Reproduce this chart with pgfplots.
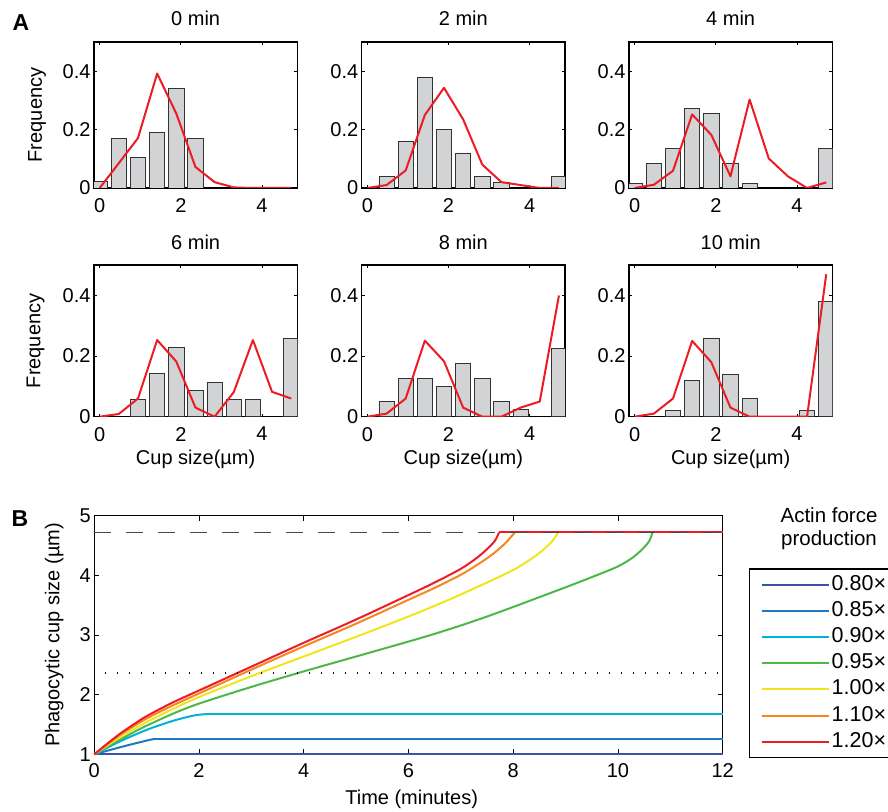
\documentclass[border=0pt]{standalone}
\usepackage{fontspec}
\setmainfont{Liberation Sans}
\usepackage{pgfplots}
\pgfplotsset{compat=1.18}

\definecolor{histfill}{HTML}{D1D3D4}
\definecolor{histedge}{HTML}{333333}
\definecolor{simred}{HTML}{EC1C24}
\definecolor{fA}{HTML}{3A53A4}
\definecolor{fB}{HTML}{1F78C1}
\definecolor{fC}{HTML}{00B2DB}
\definecolor{fD}{HTML}{4DB847}
\definecolor{fE}{HTML}{F0E51C}
\definecolor{fF}{HTML}{F7861F}
\definecolor{fG}{HTML}{EE1D25}

\newcommand{\txt}{\fontsize{20bp}{24bp}\selectfont}

\pgfplotsset{
  every axis title/.style={at={(0.5,1)}, anchor=base, yshift=16bp, font=\txt},
  matlab/.style={
    scale only axis,
    anchor=south west,
    tick align=inside,
    axis line style={line width=1.4bp},
    tick style={black, line width=0.8bp},
    /pgf/number format/assume math mode=true,
    tick label style={font=\txt},
    label style={font=\txt},
  },
  hist/.style={
    matlab,
    width=203.3bp,
    xmin=-0.14, xmax=4.87, ymin=0, ymax=0.5,
    xtick={0,2,4}, ytick={0,0.2,0.4},
    xticklabel style={yshift=-7bp},
    major tick length=3bp,
  },
  bars/.style={ybar, bar width=0.375, fill=histfill, draw=histedge, line width=0.8bp},
  model/.style={simred, line width=2bp, line join=round},
  curve/.style={line width=2bp, line join=round, smooth, tension=0.5},
  flat/.style={forget plot, line width=2bp},
}

\begin{document}
\begin{tikzpicture}
\useasboundingbox (0,0) rectangle (888bp,812bp);

% ---- A: cup size distributions over time ----
\begin{axis}[hist, at={(94bp,624bp)}, height=146bp, title={0 min},
  ylabel={Frequency}, ylabel style={at={(axis description cs:-0.28,0.5)}, anchor=center}]
\addplot[bars] coordinates {(0,0.0213) (0.472,0.170) (0.944,0.106) (1.416,0.191) (1.888,0.340) (2.360,0.170)};
\addplot[model] coordinates {(0,0) (0.472,0.085) (0.944,0.171) (1.416,0.392) (1.888,0.255) (2.360,0.072) (2.832,0.020) (3.304,0.002) (3.776,0) (4.248,0) (4.720,0)};
\end{axis}

\begin{axis}[hist, at={(361.7bp,624bp)}, height=146bp, title={2 min}]
\addplot[bars] coordinates {(0.472,0.04) (0.944,0.16) (1.416,0.38) (1.888,0.20) (2.360,0.12) (2.832,0.04) (3.304,0.02) (4.720,0.04)};
\addplot[model] coordinates {(0,0) (0.472,0.010) (0.944,0.060) (1.416,0.250) (1.888,0.343) (2.360,0.235) (2.832,0.080) (3.304,0.020) (3.776,0.010) (4.248,0) (4.720,0)};
\end{axis}

\begin{axis}[hist, at={(629bp,624bp)}, height=146bp, title={4 min}]
\addplot[bars] coordinates {(0,0.017) (0.472,0.085) (0.944,0.136) (1.416,0.271) (1.888,0.254) (2.360,0.085) (2.832,0.017) (4.720,0.136)};
\addplot[model] coordinates {(0,0) (0.472,0.011) (0.944,0.059) (1.416,0.252) (1.888,0.182) (2.360,0.040) (2.832,0.303) (3.304,0.101) (3.776,0.040) (4.248,0) (4.720,0.019)};
\end{axis}

\begin{axis}[hist, at={(94bp,395.3bp)}, height=151.5bp, title={6 min},
  ylabel={Frequency}, ylabel style={at={(axis description cs:-0.287,0.5)}, anchor=center},
  xlabel={Cup size(µm)}, xlabel style={at={(axis description cs:0.5,-0.2825)}, anchor=center}]
\addplot[bars] coordinates {(0.944,0.057) (1.416,0.143) (1.888,0.229) (2.360,0.086) (2.832,0.114) (3.304,0.057) (3.776,0.057) (4.720,0.257)};
\addplot[model] coordinates {(0,0) (0.472,0.009) (0.944,0.060) (1.416,0.253) (1.888,0.182) (2.360,0.030) (2.832,0) (3.304,0.081) (3.776,0.253) (4.248,0.082) (4.720,0.060)};
\end{axis}

\begin{axis}[hist, at={(361.7bp,395.3bp)}, height=151.5bp, title={8 min},
  xlabel={Cup size(µm)}, xlabel style={at={(axis description cs:0.5,-0.2825)}, anchor=center}]
\addplot[bars] coordinates {(0.472,0.05) (0.944,0.125) (1.416,0.125) (1.888,0.10) (2.360,0.175) (2.832,0.125) (3.304,0.05) (3.776,0.025) (4.720,0.225)};
\addplot[model] coordinates {(0,0) (0.472,0.010) (0.944,0.060) (1.416,0.251) (1.888,0.183) (2.360,0.030) (2.832,0) (3.304,0) (3.776,0.030) (4.248,0.050) (4.720,0.400)};
\end{axis}

\begin{axis}[hist, at={(629bp,395.3bp)}, height=151.5bp, title={10 min},
  xlabel={Cup size(µm)}, xlabel style={at={(axis description cs:0.5,-0.2825)}, anchor=center}]
\addplot[bars] coordinates {(0.944,0.02) (1.416,0.12) (1.888,0.26) (2.360,0.14) (2.832,0.06) (4.248,0.02) (4.720,0.38)};
\addplot[model] coordinates {(0,0) (0.472,0.010) (0.944,0.060) (1.416,0.250) (1.888,0.180) (2.360,0.030) (2.832,0) (3.304,0) (3.776,0) (4.248,0) (4.720,0.470)};
\end{axis}

% ---- B: simulated cup growth for different actin force levels ----
\begin{axis}[matlab, at={(94.3bp,57.7bp)},
  width=628.4bp, height=238.6bp,
  xmin=0, xmax=12, ymin=1, ymax=5,
  xtick={0,2,4,6,8,10,12}, ytick={1,2,3,4,5},
  xticklabel style={yshift=-6bp},
  major tick length=5bp,
  clip=false,
  xlabel={Time (minutes)}, ylabel={Phagocytic cup size (µm)},
  xlabel style={at={(axis description cs:0.505,-0.187)}, anchor=center},
  ylabel style={at={(axis description cs:-0.064,0.5)}, anchor=center},
  legend style={at={(1.0419,0.779)}, anchor=north west,
    draw=black, line width=1.4bp, font=\fontsize{21.5bp}{24bp}\selectfont,
    inner xsep=11bp, inner ysep=4bp, row sep=3.2bp,
    nodes={inner ysep=2bp, text height=15bp, text depth=4bp}},
  legend cell align=left,
  legend image code/.code={\path (0bp,0bp) -- (67bp,0bp);\draw[#1,smooth=false] (0bp,0bp) -- (64bp,0bp);},
]
\addplot[curve, fA] coordinates {(0,1) (12,1)};
\addplot[curve, fB] coordinates {(0,1) (0.5,1.12) (1,1.23) (1.16,1.26)};
\addplot[flat, fB] coordinates {(1.16,1.26) (12,1.26)};
\addplot[curve, fC] coordinates {(0,1) (0.5,1.22) (1,1.41) (1.5,1.56) (1.9,1.65) (2.15,1.675)};
\addplot[flat, fC] coordinates {(2.15,1.675) (12,1.675)};
\addplot[curve, fD] coordinates {(0,1) (0.25,1.13) (0.5,1.25) (0.75,1.37) (1,1.48) (1.5,1.68) (2,1.85) (3,2.13) (4,2.39) (5,2.64) (6,2.89) (6.5,3.02) (7,3.16) (7.5,3.31) (8,3.47) (8.5,3.635) (9,3.80) (9.5,3.97) (10,4.15) (10.3,4.31) (10.5,4.47) (10.6,4.58) (10.66,4.72)};
\addplot[flat, fD] coordinates {(10.66,4.72) (12,4.72)};
\addplot[curve, fE] coordinates {(0,1) (0.25,1.15) (0.5,1.29) (0.75,1.42) (1,1.54) (1.5,1.76) (2,1.96) (3,2.31) (4,2.64) (5,2.97) (6,3.31) (6.5,3.49) (7,3.68) (7.5,3.88) (8,4.09) (8.3,4.25) (8.55,4.41) (8.75,4.58) (8.86,4.72)};
\addplot[flat, fE] coordinates {(8.86,4.72) (12,4.72)};
\addplot[curve, fF] coordinates {(0,1) (0.25,1.17) (0.5,1.33) (0.75,1.47) (1,1.60) (1.5,1.82) (2,2.02) (3,2.42) (4,2.81) (5,3.19) (6,3.59) (6.5,3.79) (7,4.01) (7.3,4.17) (7.6,4.35) (7.85,4.54) (8.03,4.72)};
\addplot[flat, fF] coordinates {(8.03,4.72) (12,4.72)};
\addplot[curve, fG] coordinates {(0,1) (0.25,1.18) (0.5,1.35) (0.75,1.50) (1,1.64) (1.5,1.87) (2,2.07) (3,2.47) (4,2.87) (5,3.26) (6,3.67) (6.5,3.88) (7,4.11) (7.3,4.29) (7.5,4.44) (7.65,4.58) (7.73,4.72)};
\addplot[flat, fG] coordinates {(7.73,4.72) (12,4.72)};
\addplot[forget plot, black!72, line width=1.3bp, dash pattern=on 17bp off 15bp] coordinates {(0,4.72) (12,4.72)};
\addplot[forget plot, black, line width=1.5bp, dash pattern=on 1.5bp off 10.5bp, dash phase=1.5bp] coordinates {(0,2.36) (12,2.36)};
\legend{0.80×, 0.85×, 0.90×, 0.95×, 1.00×, 1.10×, 1.20×}
\end{axis}

\node[font=\fontsize{20.5bp}{23bp}\selectfont, align=center] at (829bp,283bp) {Actin force\\production};
\node[font=\bfseries\fontsize{23bp}{26bp}\selectfont] at (21bp,789bp) {A};
\node[font=\bfseries\fontsize{23bp}{26bp}\selectfont] at (20bp,293.5bp) {B};
\end{tikzpicture}
\end{document}
